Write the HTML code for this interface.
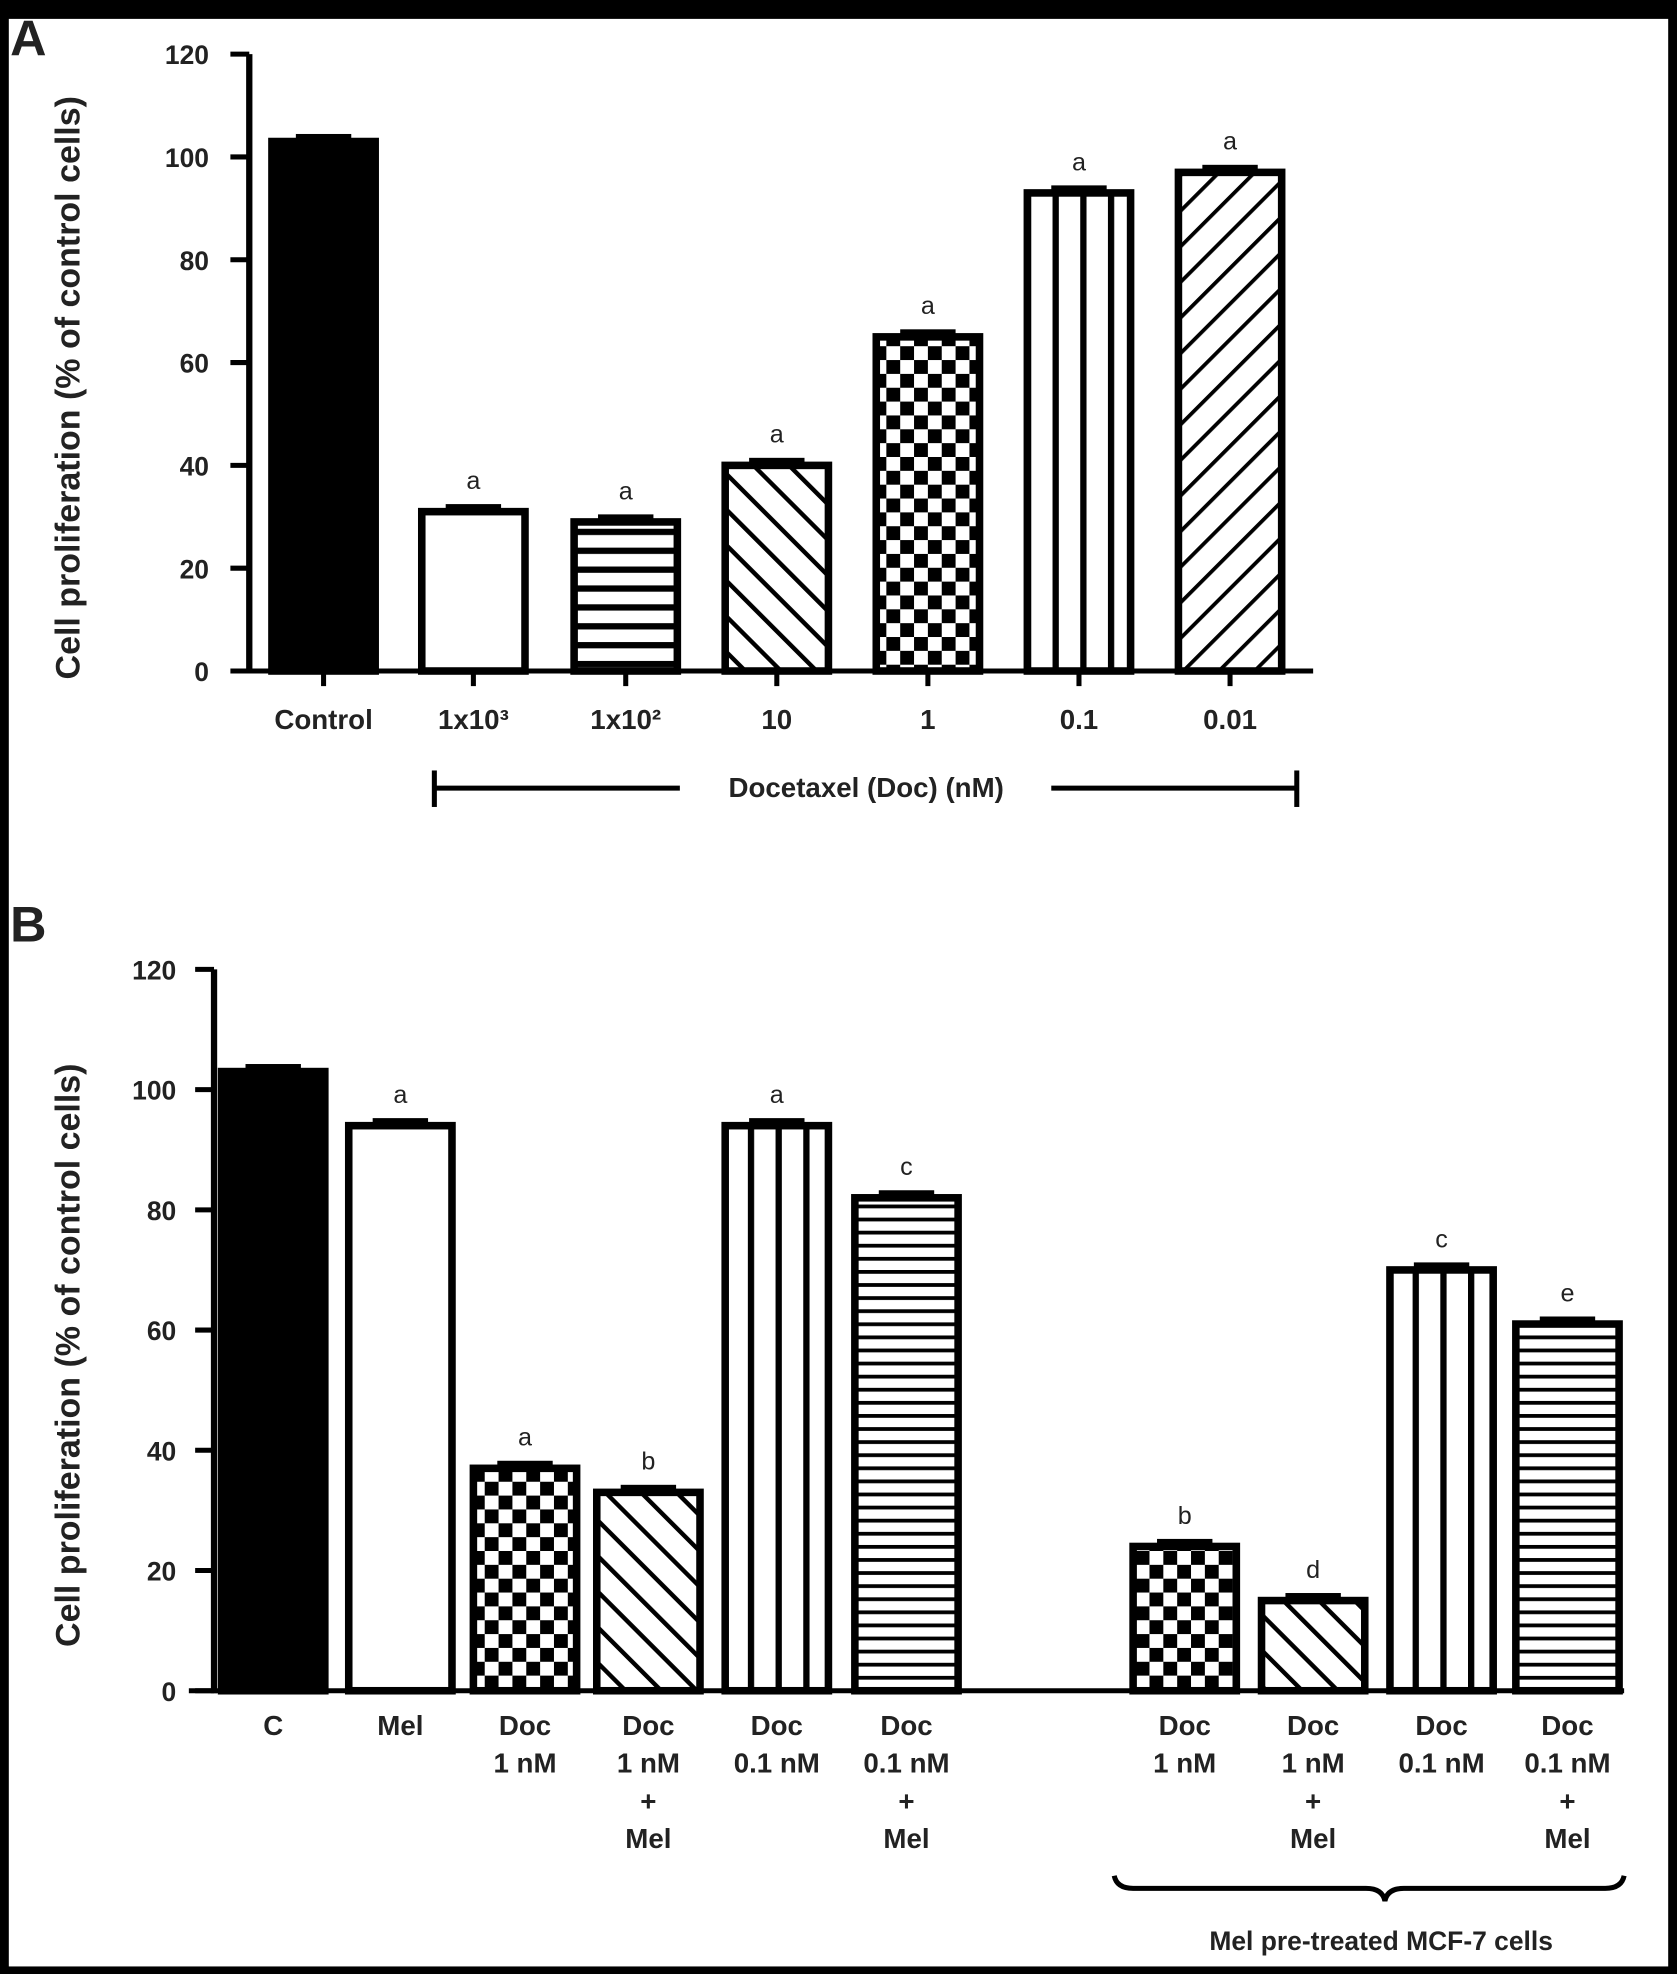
<!DOCTYPE html>
<html><head><meta charset="utf-8"><style>
html,body{margin:0;padding:0;background:#000;}
svg{display:block;}
text{font-family:"Liberation Sans",Arial,sans-serif;fill:#222;}
.b{font-weight:bold;}
</style></head><body>
<svg id="fig" width="1677" height="1974" viewBox="0 0 1332 1568" preserveAspectRatio="none" xmlns="http://www.w3.org/2000/svg">
<defs>
<pattern id="pH" patternUnits="userSpaceOnUse" width="20" height="15"><rect width="20" height="15" fill="#fff"/><rect y="0" width="20" height="5" fill="#000"/></pattern>
<pattern id="pHB" patternUnits="userSpaceOnUse" width="20" height="10.4"><rect width="20" height="10.4" fill="#fff"/><rect y="0" width="20" height="3" fill="#000"/></pattern>
<pattern id="pV" patternUnits="userSpaceOnUse" width="22" height="20"><rect width="22" height="20" fill="#fff"/><rect x="0" width="5" height="20" fill="#000"/></pattern>
<pattern id="pD1" patternUnits="userSpaceOnUse" width="20" height="20" patternTransform="rotate(-45)"><rect width="20" height="20" fill="#fff"/><rect width="3.5" height="20" fill="#000"/></pattern>
<pattern id="pD2" patternUnits="userSpaceOnUse" width="20" height="20" patternTransform="rotate(45)"><rect width="20" height="20" fill="#fff"/><rect width="3" height="20" fill="#000"/></pattern>
<pattern id="pC" patternUnits="userSpaceOnUse" width="22" height="22"><rect width="22" height="22" fill="#fff"/><rect width="11" height="11" fill="#000"/><rect x="11" y="11" width="11" height="11" fill="#000"/></pattern>
</defs>
<rect x="7" y="15" width="1318" height="1547" fill="#fff"/>
<g id="A"></g>
<g id="B"></g>
</svg>
<script>
const catsA = ["Control","1x10³","1x10²","10","1","0.1","0.01"];
const valsA = [103,31,29,40,65,93,97];
const lettersA = ["","a","a","a","a","a","a"];
const fillsA = ["#000","#fff","url(#pH)","url(#pD1)","url(#pC)","url(#pV)","url(#pD2)"];
const catsB = [["C"],["Mel"],["Doc","1 nM"],["Doc","1 nM","+","Mel"],["Doc","0.1 nM"],["Doc","0.1 nM","+","Mel"],["Doc","1 nM"],["Doc","1 nM","+","Mel"],["Doc","0.1 nM"],["Doc","0.1 nM","+","Mel"]];
const valsB = [103,94,37,33,94,82,24,15,70,61];
const lettersB = ["","a","a","b","a","c","b","d","c","e"];
const fillsB = ["#000","#fff","url(#pC)","url(#pD1)","url(#pV)","url(#pHB)","url(#pC)","url(#pD1)","url(#pV)","url(#pHB)"];
const ticks = [0,20,40,60,80,100,120];
const NS="http://www.w3.org/2000/svg";
function mk(p,tag,a,txt){const e=document.createElementNS(NS,tag);for(const k in a)e.setAttribute(k,a[k]);if(txt!==undefined)e.textContent=txt;p.appendChild(e);return e;}

function panel(g,o){
  const y=v=>o.y0-(v/120)*(o.y0-o.y120);
  const x=i=>o.centers[i];
  ticks.forEach(t=>{
    const l=mk(g,'line',{x1:o.ax-15,x2:o.ax,y1:y(t),y2:y(t),stroke:'#000','stroke-width':4});
    
    
    const tx=mk(g,'text',{x:o.ax-o.lblOff,y:y(t)+8,'text-anchor':'end','font-size':21,class:'b'},String(t));
    
    
  });
  const yt=mk(g,'text',{x:0,y:0,'text-anchor':'middle','font-size':27,class:'b',transform:`translate(${o.titleX},${(o.y0+o.y120)/2+20}) rotate(-90)`,fill:'#111'},'Cell proliferation (% of control cells)');
  
  
  o.vals.forEach((v,i)=>{
    const w=o.bw, cx=x(i);
    const r=mk(g,'rect',{x:cx-w/2+3,y:y(v),width:w-6,height:o.y0-y(v),fill:o.fills[i],stroke:'#000','stroke-width':6});
    
    
    const e=mk(g,'rect',{x:cx-w/4,y:y(v)-6,width:w/2,height:6,fill:'#000'});
    
    
    if(o.letters[i]){const t=mk(g,'text',{x:cx,y:y(v)-18,'text-anchor':'middle','font-size':20},o.letters[i]);
      
      }
  });
  const ya=mk(g,'line',{x1:o.ax,x2:o.ax,y1:o.y120,y2:o.y0+2,stroke:'#000','stroke-width':5});
  
  
  const xa=mk(g,'line',{x1:o.xs,x2:o.xe,y1:o.y0,y2:o.y0,stroke:'#000','stroke-width':4});
  
  
  return {y,x};
}

const gA=document.getElementById('A');
const A=panel(gA,{y0:533,y120:43,ax:198,xs:184,xe:1043,lblOff:32,titleX:63,bw:88,centers:[257,376,497,617,737,857,977],vals:valsA,fills:fillsA,letters:lettersA});
catsA.forEach((c,i)=>{
  const tk=mk(gA,'line',{x1:A.x(i),x2:A.x(i),y1:533,y2:545,stroke:'#000','stroke-width':4});
  
  
  const t=mk(gA,'text',{x:A.x(i),y:579,'text-anchor':'middle','font-size':22,class:'b'},c);
  
  
});
const panA=mk(gA,'text',{x:8,y:44,'font-size':40,class:'b',fill:'#000'},'A');


[[345,540],[835,1030]].forEach(s=>{const l=mk(gA,'line',{x1:s[0],x2:s[1],y1:626,y2:626,stroke:'#000','stroke-width':4});
  
  });
[345,1030].forEach(xx=>{const l=mk(gA,'line',{x1:xx,x2:xx,y1:612,y2:641,stroke:'#000','stroke-width':4});
  
  });
const dl=mk(gA,'text',{x:688,y:633,'text-anchor':'middle','font-size':22,class:'b'},'Docetaxel (Doc) (nM)');



const gB=document.getElementById('B');
const B=panel(gB,{y0:1343,y120:770,ax:170,xs:150,xe:1290,lblOff:30,titleX:63,bw:88,centers:[217,318,417,515,617,720,941,1043,1145,1245],vals:valsB,fills:fillsB,letters:lettersB});
catsB.forEach((c,i)=>{
  c.forEach((s,j)=>{
    const t=mk(gB,'text',{x:B.x(i),y:1378+j*30,'text-anchor':'middle','font-size':22,class:'b'},s);
    
    
  });
});
const panB=mk(gB,'text',{x:8,y:748,'font-size':40,class:'b',fill:'#000'},'B');


const br=mk(gB,'path',{d:'M885 1490 Q887 1500 900 1500 L1085 1500 Q1098 1500 1100 1510 Q1102 1500 1115 1500 L1275 1500 Q1288 1500 1290 1490',fill:'none',stroke:'#000','stroke-width':4});


const bl=mk(gB,'text',{x:1097,y:1549,'text-anchor':'middle','font-size':21,class:'b'},'Mel pre-treated MCF-7  cells');


</script>
</body></html>
